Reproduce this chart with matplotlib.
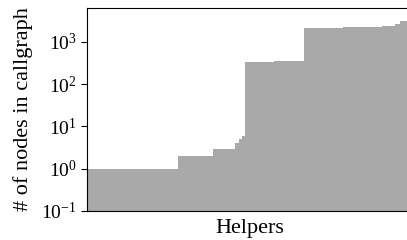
import numpy as np
import matplotlib.pyplot as plt

plt.rcParams['font.family'] = ['Liberation Serif', 'DejaVu Serif']
plt.rcParams['mathtext.fontset'] = 'stix'

# callgraph sizes, sorted, given as (value, how many helpers share it)
node_values = [1, 2, 3, 4, 5, 6,
               330, 335, 340, 345, 350, 358,
               2100, 2130, 2160, 2200, 2250, 2300, 2380, 2700, 3100]
node_counts = [56, 21, 14, 2, 2, 2,
               6, 6, 6, 6, 6, 6,
               8, 8, 8, 8, 8, 8, 8, 3, 8]

sizes = np.repeat(node_values, node_counts)
n = len(sizes)

fig = plt.figure(figsize=(4.07, 2.40), dpi=100)
ax = fig.add_axes([87 / 407, 29 / 240, 326 / 407, 203 / 240])

ax.stairs(sizes, np.arange(n + 1), fill=True, baseline=0.1, color='darkgray', linewidth=0)

ax.set_yscale('log')
ax.set_ylim(0.1, 6300)
ax.set_xlim(0, n)
ax.set_xticks([])
ax.yaxis.set_minor_locator(plt.NullLocator())
ax.tick_params(axis='y', labelsize=14, length=4)

ax.set_xlabel('Helpers', fontsize=16, labelpad=5.5)
ax.set_ylabel('# of nodes in callgraph', fontsize=16, labelpad=6)

fig.savefig('out.png', dpi=100)
